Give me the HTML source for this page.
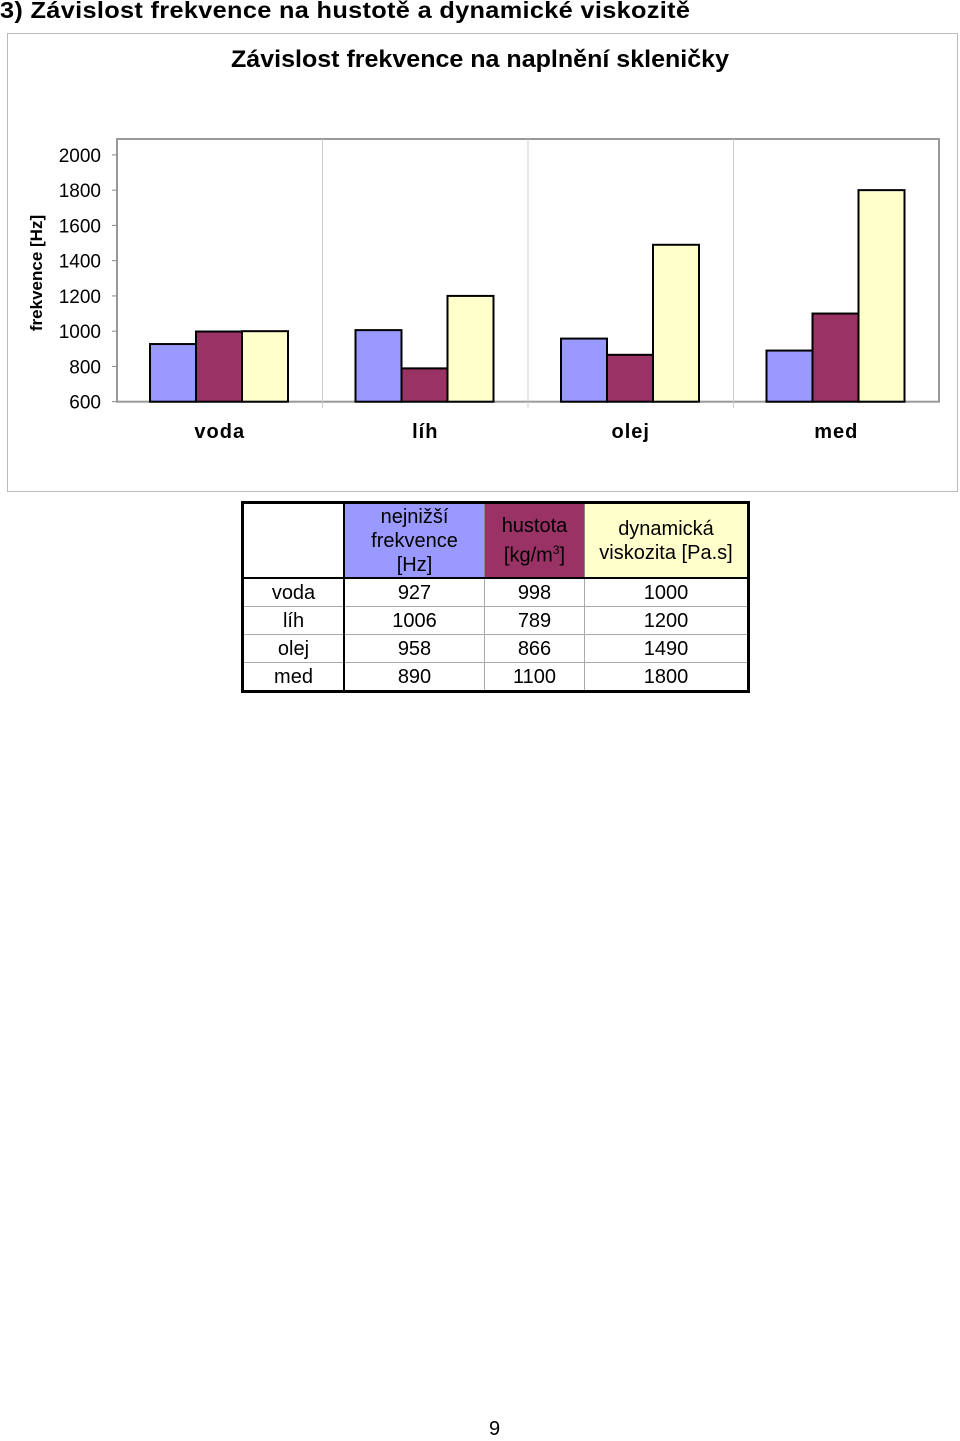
<!DOCTYPE html>
<html><head><meta charset="utf-8"><style>
body{margin:0;width:960px;height:1438px;background:#fff;font-family:"Liberation Sans",Arial,sans-serif;position:relative;overflow:hidden}
.abs{position:absolute}
table{border-collapse:collapse;position:absolute;left:241px;top:501px;width:509px;border:3px solid #000;font-size:20px;color:#000}
td{border:1px solid #aaa;text-align:center;padding:0;height:27px;line-height:22px}
th{font-weight:normal;height:73px;line-height:24px;padding:0;border:1px solid #888}
</style></head><body>
<div class="abs" style="left:0;top:-3px;font-size:23px;font-weight:bold;letter-spacing:0.3px;transform:scaleX(1.1);transform-origin:left">3) Závislost frekvence na hustotě a dynamické viskozitě</div>
<div class="abs" style="left:7px;top:33px;width:949px;height:457px;border:1px solid #bbb"></div>
<svg class="abs" style="left:0;top:0" width="960" height="500">
<text x="480" y="67" text-anchor="middle" font-size="24" font-weight="bold" textLength="498" lengthAdjust="spacingAndGlyphs">Závislost frekvence na naplnění skleničky</text>
<text transform="translate(42,273) rotate(-90)" text-anchor="middle" font-size="17" font-weight="bold">frekvence [Hz]</text>
<g id="g"></g>
</svg>
<script>
const categories=["voda","líh","olej","med"];
const freq=[927,1006,958,890];
const dens=[998,789,866,1100];
const visc=[1000,1200,1490,1800];
const ticks=[600,800,1000,1200,1400,1600,1800,2000];
const L=117,R=939,T=139,B=401.7,ymin=600,ymax=2090;
const y=v=>B-(v-ymin)/(ymax-ymin)*(B-T);
const cw=(R-L)/categories.length;
const g=document.getElementById('g');
const NS='http://www.w3.org/2000/svg';
function mk(t,a){const e=document.createElementNS(NS,t);for(const k in a)e.setAttribute(k,a[k]);g.appendChild(e);return e;}
let r=mk('rect',{x:L,y:T,width:R-L,height:B-T,fill:'#fff',stroke:'#999','stroke-width':2});


for(let i=1;i<categories.length;i++){mk('line',{x1:L+cw*i,x2:L+cw*i,y1:T,y2:B+6,stroke:'#ccc'});}
ticks.forEach(t=>{mk('line',{x1:L-5,x2:L,y1:y(t),y2:y(t),stroke:'#888'});
const tx=mk('text',{x:101,y:y(t)+7,'text-anchor':'end','font-size':19});tx.textContent=t;

});
const series=[[freq,'#9999ff','freq'],[dens,'#993366','dens'],[visc,'#ffffcc','visc']];
categories.forEach((c,i)=>{
 const x0=L+cw*i+33;
 series.forEach((s,j)=>{
  const b=mk('rect',{x:x0+j*46,y:y(s[0][i]),width:46,height:B-y(s[0][i]),fill:s[1],stroke:'#000','stroke-width':2});
  
  
 });
 const t=mk('text',{x:L+cw*i+cw/2,y:438,'text-anchor':'middle','font-size':20,'font-weight':'bold','letter-spacing':'1'});t.textContent=c;
 
 
});
</script>
<table>
<tr><th style="width:99px;border-right:2px solid #000"></th><th style="width:139px;background:#9999ff">nejnižší<br>frekvence<br>[Hz]</th><th style="width:99px;background:#993366">hustota<br>[kg/m<sup style="font-size:12px">3</sup>]</th><th style="background:#ffffcc">dynamická<br>viskozita [Pa.s]</th></tr>
<tr style="border-top:2px solid #000"><td style="border-right:2px solid #000">voda</td><td>927</td><td>998</td><td>1000</td></tr>
<tr><td style="border-right:2px solid #000">líh</td><td>1006</td><td>789</td><td>1200</td></tr>
<tr><td style="border-right:2px solid #000">olej</td><td>958</td><td>866</td><td>1490</td></tr>
<tr><td style="border-right:2px solid #000">med</td><td>890</td><td>1100</td><td>1800</td></tr>
</table>
<div class="abs" style="left:489px;top:1418px;font-size:20px">9</div>
</body></html>
